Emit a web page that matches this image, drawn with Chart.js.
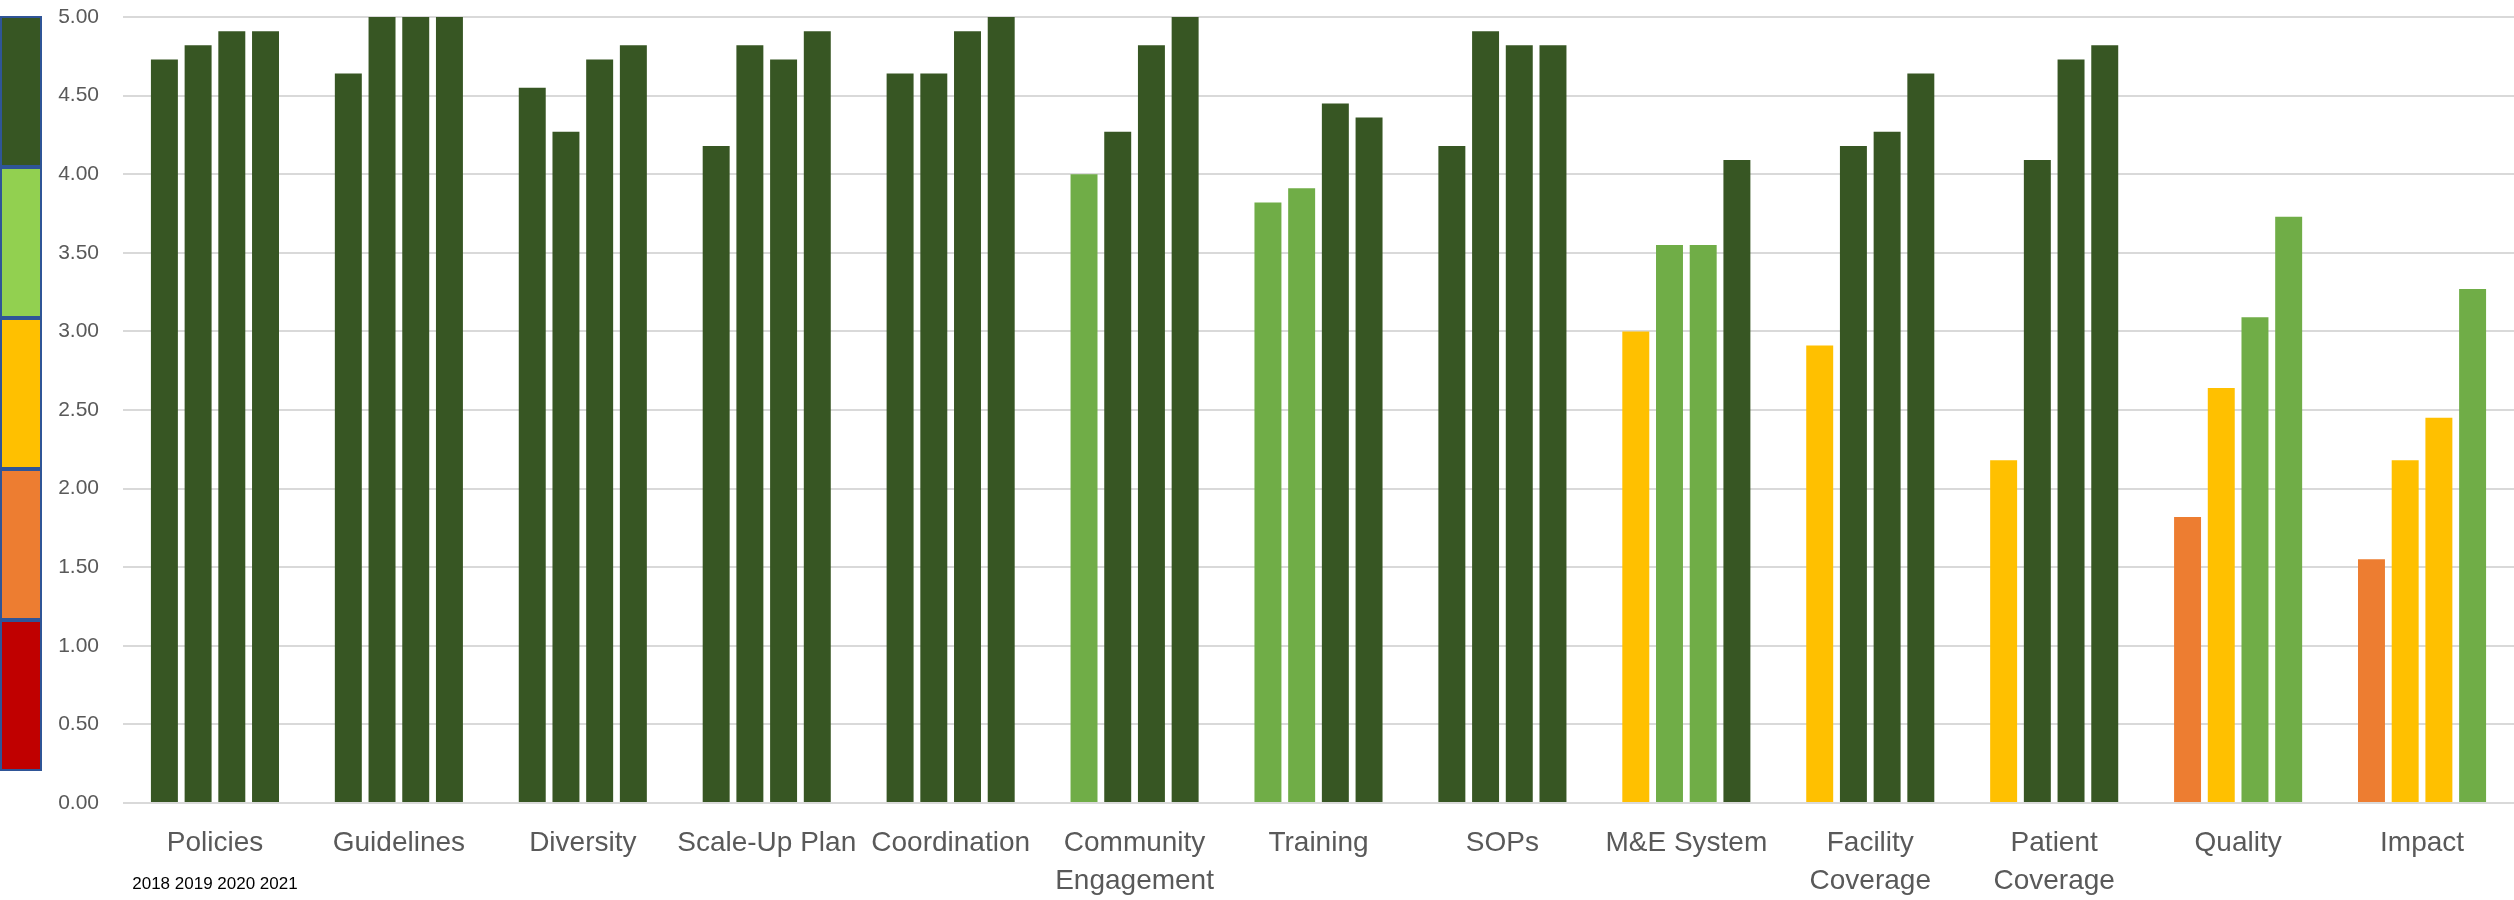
<!DOCTYPE html>
<html>
<head>
<meta charset="utf-8">
<title>Scores by component, 2018–2021</title>
<script src="https://cdn.jsdelivr.net/npm/chart.js@4/dist/chart.umd.min.js"></script>
<style>
  html, body { margin: 0; padding: 0; background: #ffffff; }
  #wrap { position: relative; width: 2514px; height: 900px; }
</style>
</head>
<body>
<div id="wrap"><canvas id="chart" width="2514" height="900"></canvas></div>
<script>
// Components on the x axis
const categories = [
  "Policies", "Guidelines", "Diversity", "Scale-Up Plan", "Coordination",
  ["Community", "Engagement"], "Training", "SOPs", "M&E System",
  ["Facility", "Coverage"], ["Patient", "Coverage"], "Quality", "Impact"
];

// Yearly scores (0–5) per component
const years = ["2018", "2019", "2020", "2021"];
const scores2018 = [4.73, 4.64, 4.55, 4.18, 4.64, 4.00, 3.82, 4.18, 3.00, 2.91, 2.18, 1.82, 1.55];
const scores2019 = [4.82, 5.00, 4.27, 4.82, 4.64, 4.27, 3.91, 4.91, 3.55, 4.18, 4.09, 2.64, 2.18];
const scores2020 = [4.91, 5.00, 4.73, 4.73, 4.91, 4.82, 4.45, 4.82, 3.55, 4.27, 4.73, 3.09, 2.45];
const scores2021 = [4.91, 5.00, 4.82, 4.91, 5.00, 5.00, 4.36, 4.82, 4.09, 4.64, 4.82, 3.73, 3.27];

// Y axis ticks
const yTicks = [0, 0.5, 1, 1.5, 2, 2.5, 3, 3.5, 4, 4.5, 5];

// Rating bands, top to bottom, for the key strip at the left edge
const bandColors = ["#375623", "#92D050", "#FFC000", "#ED7D31", "#C00000"];

// Bar colour by rating band
function scoreColor(v) {
  if (v > 4) return "#375623";
  if (v > 3) return "#70AD47";
  if (v > 2) return "#FFC000";
  if (v > 1) return "#ED7D31";
  return "#C00000";
}

const series = [scores2018, scores2019, scores2020, scores2021];

const datasets = series.map((vals, i) => ({
  label: years[i],
  data: vals,
  backgroundColor: vals.map(scoreColor),
  borderWidth: 0,
  categoryPercentage: 0.733,
  barPercentage: 0.80
}));

// Coloured key strip drawn at the left edge
const bandStrip = {
  id: "bandStrip",
  afterDraw(chart) {
    const ctx = chart.ctx;
    const top = 16, h = 151, w = 41;
    ctx.save();
    bandColors.forEach((c, i) => {
      const y = top + i * h;
      ctx.fillStyle = c;
      ctx.fillRect(0, y, w, h);
      ctx.lineWidth = 2;
      ctx.strokeStyle = "#2F5597";
      ctx.strokeRect(1, y + 1, w - 1, h - 2);
    });
    ctx.restore();
  }
};

// Year order caption under the first group
const yearCaption = {
  id: "yearCaption",
  afterDraw(chart) {
    const ctx = chart.ctx;
    const x = chart.scales.x.getPixelForValue(0);
    ctx.save();
    ctx.font = "17px 'Liberation Sans', Arial, sans-serif";
    ctx.fillStyle = "#000000";
    ctx.textAlign = "center";
    ctx.textBaseline = "middle";
    ctx.fillText(years.join(" "), x, 884);
    ctx.restore();
  }
};

new Chart(document.getElementById("chart"), {
  type: "bar",
  data: { labels: categories, datasets },
  plugins: [bandStrip, yearCaption],
  options: {
    responsive: false,
    animation: false,
    layout: { padding: 0 },
    plugins: {
      legend: { display: false },
      tooltip: { enabled: false }
    },
    scales: {
      x: {
        grid: { display: false, drawTicks: false },
        border: { display: false },
        ticks: {
          color: "#595959",
          font: { family: "'Liberation Sans', Arial, sans-serif", size: 28, lineHeight: 1.36 },
          padding: 21,
          maxRotation: 0,
          autoSkip: false
        },
        afterFit(scale) {
          scale.height = 97;
          scale.paddingLeft = 0;
          scale.paddingRight = 0;
        }
      },
      y: {
        min: 0,
        max: 5,
        afterBuildTicks(scale) { scale.ticks = yTicks.map(v => ({ value: v })); },
        grid: { color: "#D9D9D9", lineWidth: 2, drawTicks: false },
        border: { display: false },
        ticks: {
          color: "#595959",
          font: { family: "'Liberation Sans', Arial, sans-serif", size: 21 },
          padding: 24,
          callback: v => Number(v).toFixed(2)
        },
        afterFit(scale) {
          scale.width = 123;
          scale.paddingTop = 17;
          scale.paddingBottom = 0;
        }
      }
    }
  }
});
</script>
</body>
</html>
